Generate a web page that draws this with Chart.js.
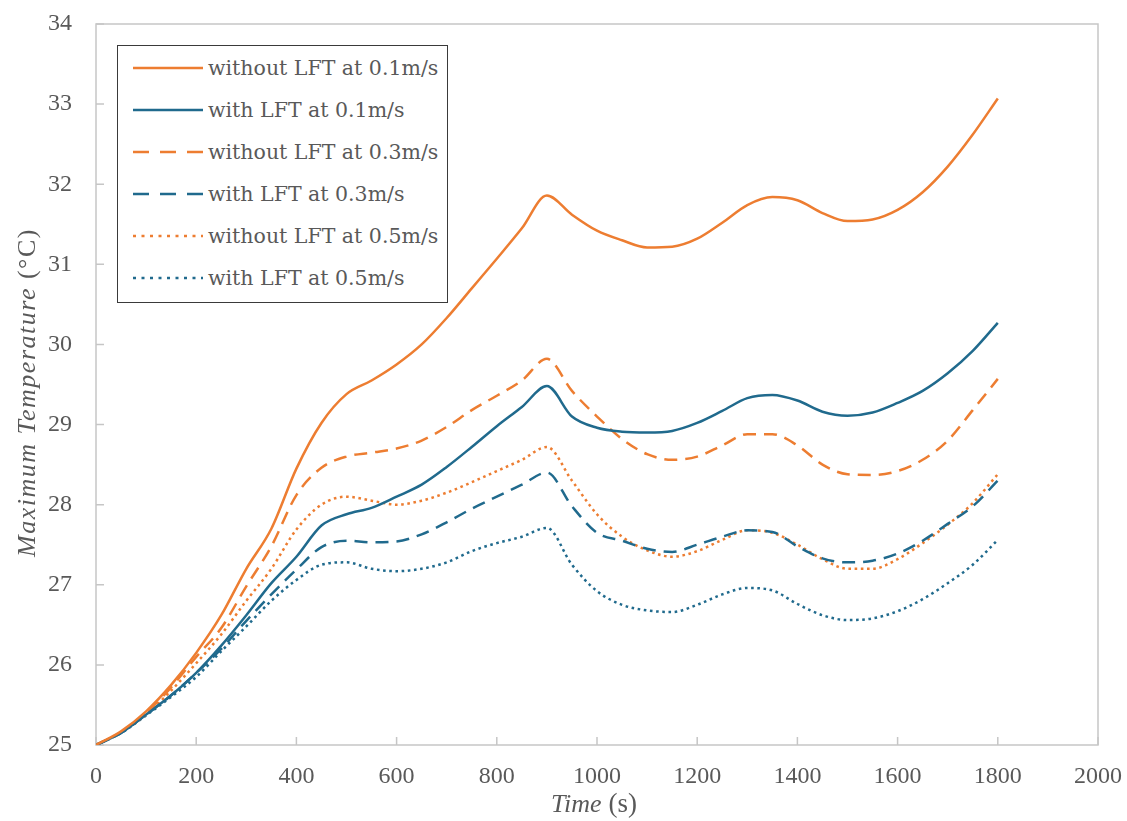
<!DOCTYPE html>
<html lang="en">
<head>
<meta charset="UTF-8">
<title>Maximum Temperature vs Time</title>
<script src="https://cdn.jsdelivr.net/npm/chart.js"></script>
<style>
    body { margin: 0; background: #fff; }
    #wrap { position: relative; width: 1127px; height: 821px; }
    #chart { position: absolute; left: 0; top: 0; }
    #legend {
        position: absolute; left: 117px; top: 45px;
        width: 331px; height: 258px; box-sizing: border-box;
        border: 1.5px solid #3a3a3a; background: #fff;
        font-family: 'DejaVu Serif', serif; font-size: 20.5px; color: #595959;
        padding-top: 1px
    }
    .row { height: 42px; display: flex; align-items: center; white-space: nowrap; }
    .row svg { margin-left: 15px; margin-right: 5px; flex: none; }
</style>
</head>
<body>
<div id="wrap">
    <canvas id="chart" width="1127" height="821"></canvas>
    <div id="legend"></div>
</div>
<script>
// time axis (s), one sample every 50 s
const times = [0,50,100,150,200,250,300,350,400,450,500,550,600,650,700,750,800,850,900,
    950,1000,1050,1100,1150,1200,1250,1300,1350,1400,1450,1500,1550,1600,1650,1700,1750,1800]

// max temperature (°C)
const noLft01 = [25.0,25.17,25.42,25.75,26.15,26.62,27.2,27.7,28.45,29.02,29.38,29.55,29.75,30.0,30.33,30.7,31.07,31.45,31.86,
    31.62,31.42,31.3,31.21,31.22,31.32,31.52,31.74,31.84,31.8,31.64,31.54,31.56,31.68,31.9,32.22,32.62,33.07]
const lft01 = [25.0,25.15,25.38,25.62,25.9,26.24,26.62,27.02,27.35,27.74,27.88,27.96,28.1,28.25,28.47,28.72,28.98,29.22,29.48,
    29.1,28.96,28.91,28.9,28.92,29.02,29.17,29.33,29.37,29.3,29.16,29.11,29.15,29.27,29.42,29.64,29.92,30.27]
const noLft03 = [25.0,25.16,25.4,25.72,26.1,26.46,26.98,27.48,28.12,28.46,28.6,28.65,28.7,28.8,28.97,29.18,29.36,29.55,29.82,
    29.42,29.1,28.82,28.63,28.56,28.6,28.74,28.88,28.88,28.74,28.5,28.38,28.37,28.42,28.56,28.8,29.18,29.57]
const lft03 = [25.0,25.15,25.38,25.62,25.9,26.2,26.55,26.88,27.19,27.47,27.55,27.53,27.54,27.63,27.78,27.95,28.1,28.25,28.4,
    27.98,27.65,27.55,27.45,27.41,27.5,27.6,27.68,27.66,27.48,27.33,27.28,27.3,27.39,27.55,27.76,27.98,28.3]
const noLft05 = [25.0,25.16,25.38,25.68,26.02,26.38,26.8,27.2,27.69,28.0,28.1,28.05,28.0,28.05,28.15,28.28,28.42,28.56,28.72,
    28.3,27.88,27.6,27.43,27.35,27.42,27.56,27.68,27.65,27.5,27.32,27.2,27.2,27.32,27.52,27.75,28.02,28.38]
const lft05 = [25.0,25.15,25.37,25.6,25.85,26.17,26.48,26.8,27.06,27.25,27.28,27.2,27.17,27.2,27.28,27.42,27.52,27.6,27.71,
    27.25,26.92,26.75,26.68,26.66,26.75,26.88,26.96,26.93,26.76,26.62,26.56,26.58,26.67,26.82,27.02,27.25,27.56]

const labels = ['without LFT at 0.1m/s','with LFT at 0.1m/s','without LFT at 0.3m/s',
    'with LFT at 0.3m/s','without LFT at 0.5m/s','with LFT at 0.5m/s']
const values = [noLft01, lft01, noLft03, lft03, noLft05, lft05]

const ORANGE = '#ed7d31', BLUE = '#206a8d'
const styles = [
    {color: ORANGE, dash: [], legendDash: ''},
    {color: BLUE, dash: [], legendDash: ''},
    {color: ORANGE, dash: [13, 8], legendDash: '16 11'},
    {color: BLUE, dash: [13, 8], legendDash: '16 11'},
    {color: ORANGE, dash: [2.6, 3.6], legendDash: '3 5.5'},
    {color: BLUE, dash: [2.6, 3.6], legendDash: '3 5.5'}
]

const GREY = '#595959'
const tickFont = {family: 'Liberation Serif', size: 24}

// draw a string made of parts in different fonts, centred on (cx, cy)
function drawParts(ctx, parts, cx, cy) {
    let w = 0
    parts.forEach(p => { ctx.font = p.font; w += ctx.measureText(p.text).width })
    let x = cx - w / 2
    parts.forEach(p => {
        ctx.font = p.font
        ctx.fillText(p.text, x, cy)
        x += ctx.measureText(p.text).width
    })
}

// plot frame + inward tick marks + axis titles
const frame = {
    id: 'frame',
    beforeDatasetsDraw(c) {
        const {ctx, chartArea: a, scales: {x, y}} = c
        ctx.save()
        ctx.strokeStyle = '#c6c6c6'
        ctx.lineWidth = 1.5
        ctx.strokeRect(a.left, a.top, a.right - a.left, a.bottom - a.top)
        ctx.beginPath()
        x.ticks.forEach(t => {
            let px = x.getPixelForValue(t.value)
            ctx.moveTo(px, a.bottom); ctx.lineTo(px, a.bottom - 8)
        })
        y.ticks.forEach(t => {
            let py = y.getPixelForValue(t.value)
            ctx.moveTo(a.left, py); ctx.lineTo(a.left + 8, py)
        })
        ctx.stroke()
        ctx.restore()
    },
    afterDraw(c) {
        const {ctx, chartArea: a} = c
        ctx.save()
        ctx.fillStyle = GREY
        ctx.textBaseline = 'middle'
        ctx.textAlign = 'left'
        drawParts(ctx, [
            {text: 'Time', font: 'italic 26px "Liberation Serif"'},
            {text: ' (s)', font: '27px "Liberation Serif"'}
        ], (a.left + a.right) / 2 - 3, 805)
        ctx.translate(28, (a.top + a.bottom) / 2 + 8)
        ctx.rotate(-Math.PI / 2)
        ctx.letterSpacing = '1.5px'
        drawParts(ctx, [
            {text: 'Maximum Temperature', font: 'italic 26px "Liberation Serif"'},
            {text: ' (°C)', font: '26px "Liberation Serif"'}
        ], 0, 0)
        ctx.restore()
    }
}

let chart = new Chart(document.getElementById('chart'), {
    type: 'line',
    data: {
        datasets: values.map((vals, i) => ({
            label: labels[i],
            data: times.map((t, j) => ({x: t, y: vals[j]})),
            borderColor: styles[i].color,
            borderDash: styles[i].dash,
            borderWidth: 2.5,
            pointRadius: 0,
            fill: false,
            cubicInterpolationMode: 'monotone'
        }))
    },
    options: {
        responsive: false,
        animation: false,
        layout: {padding: {top: 24, right: 29, left: 0, bottom: 0}},
        plugins: {legend: {display: false}, tooltip: {enabled: false}},
        scales: {
            x: {
                type: 'linear', min: 0, max: 2000,
                ticks: {stepSize: 200, font: tickFont, color: GREY, padding: 17, maxRotation: 0,
                    callback: v => String(v)},
                grid: {display: false, drawTicks: false},
                border: {display: false},
                afterFit: s => { s.height = 76; s.paddingLeft = 0; s.paddingRight = 0 }
            },
            y: {
                min: 25, max: 34,
                ticks: {stepSize: 1, font: tickFont, color: GREY, padding: 24},
                grid: {display: false, drawTicks: false},
                border: {display: false},
                afterFit: s => { s.width = 96; s.paddingTop = 0; s.paddingBottom = 0 }
            }
        }
    },
    plugins: [frame]
})

// legend box inside the plot, built from the datasets
let legend = document.getElementById('legend')
chart.data.datasets.forEach((ds, i) => {
    let row = document.createElement('div')
    row.className = 'row'
    row.innerHTML = '<svg width="70" height="10"><line x1="0" y1="5" x2="70" y2="5" stroke="' + styles[i].color +
        '" stroke-width="2.5" stroke-dasharray="' + styles[i].legendDash + '"/></svg>'
    let span = document.createElement('span')
    span.textContent = ds.label
    row.appendChild(span)
    legend.appendChild(row)
})
</script>
</body>
</html>
